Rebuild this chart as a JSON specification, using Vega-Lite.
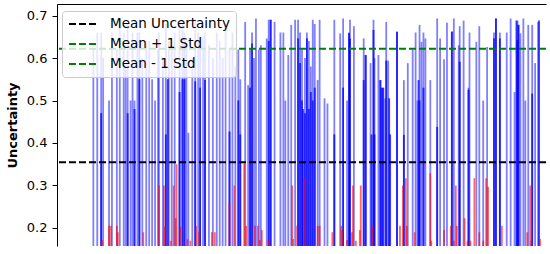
{
"$schema":"https://vega.github.io/schema/vega-lite/v6.json",
"width":489,"height":242,
"autosize":{"type":"none"},
"padding":{"left":57,"top":4,"right":4,"bottom":8},
"config":{"view":{"stroke":null},"font":"DejaVu Sans"},
"datasets":{
"bars":[
{"idx":32,"u":0.62,"label":"correct"},{"idx":36,"u":0.66,"label":"correct"},{"idx":40,"u":0.66,"label":"correct"},{"idx":42,"u":0.60,"label":"correct"},{"idx":48,"u":0.50,"label":"correct"},{"idx":51,"u":0.66,"label":"correct"},{"idx":56,"u":0.62,"label":"correct"},{"idx":59,"u":0.69,"label":"correct"},{"idx":63,"u":0.66,"label":"correct"},{"idx":65,"u":0.58,"label":"correct"},{"idx":67,"u":0.68,"label":"correct"},{"idx":70,"u":0.50,"label":"correct"},{"idx":72,"u":0.66,"label":"correct"},{"idx":74,"u":0.50,"label":"correct"},{"idx":77,"u":0.66,"label":"correct"},{"idx":79,"u":0.66,"label":"correct"},{"idx":82,"u":0.60,"label":"correct"},{"idx":86,"u":0.64,"label":"correct"},{"idx":89,"u":0.64,"label":"correct"},{"idx":92,"u":0.55,"label":"correct"},{"idx":95,"u":0.50,"label":"correct"},{"idx":98,"u":0.62,"label":"correct"},{"idx":99,"u":0.66,"label":"correct"},{"idx":103,"u":0.60,"label":"correct"},{"idx":106,"u":0.68,"label":"correct"},{"idx":109,"u":0.64,"label":"correct"},{"idx":112,"u":0.62,"label":"correct"},{"idx":115,"u":0.66,"label":"correct"},{"idx":120,"u":0.68,"label":"correct"},{"idx":123,"u":0.69,"label":"correct"},{"idx":125,"u":0.66,"label":"correct"},{"idx":127,"u":0.64,"label":"correct"},{"idx":129,"u":0.424,"label":"correct"},{"idx":133,"u":0.60,"label":"correct"},{"idx":136,"u":0.69,"label":"correct"},{"idx":139,"u":0.66,"label":"correct"},{"idx":141,"u":0.62,"label":"correct"},{"idx":144,"u":0.65,"label":"correct"},{"idx":146,"u":0.66,"label":"correct"},{"idx":150,"u":0.63,"label":"correct"},{"idx":154,"u":0.60,"label":"correct"},{"idx":158,"u":0.66,"label":"correct"},{"idx":161,"u":0.64,"label":"correct"},{"idx":164,"u":0.60,"label":"correct"},{"idx":167,"u":0.68,"label":"correct"},{"idx":171,"u":0.62,"label":"correct"},{"idx":174,"u":0.66,"label":"correct"},{"idx":177,"u":0.58,"label":"correct"},{"idx":180,"u":0.62,"label":"correct"},{"idx":182,"u":0.55,"label":"correct"},{"idx":187,"u":0.685,"label":"correct"},{"idx":190,"u":0.536,"label":"correct"},{"idx":192,"u":0.62,"label":"correct"},{"idx":194,"u":0.66,"label":"correct"},{"idx":196,"u":0.60,"label":"correct"},{"idx":198,"u":0.693,"label":"correct"},{"idx":201,"u":0.62,"label":"correct"},{"idx":203,"u":0.63,"label":"correct"},{"idx":209,"u":0.646,"label":"correct"},{"idx":211,"u":0.69,"label":"correct"},{"idx":213,"u":0.69,"label":"correct"},{"idx":217,"u":0.685,"label":"correct"},{"idx":223,"u":0.66,"label":"correct"},{"idx":226,"u":0.66,"label":"correct"},{"idx":228,"u":0.50,"label":"correct"},{"idx":231,"u":0.607,"label":"correct"},{"idx":234,"u":0.678,"label":"correct"},{"idx":238,"u":0.69,"label":"correct"},{"idx":241,"u":0.69,"label":"correct"},{"idx":243,"u":0.66,"label":"correct"},{"idx":245,"u":0.62,"label":"correct"},{"idx":248,"u":0.60,"label":"correct"},{"idx":250,"u":0.66,"label":"correct"},{"idx":252,"u":0.64,"label":"correct"},{"idx":254,"u":0.58,"label":"correct"},{"idx":256,"u":0.69,"label":"correct"},{"idx":258,"u":0.68,"label":"correct"},{"idx":261,"u":0.548,"label":"correct"},{"idx":263,"u":0.69,"label":"correct"},{"idx":268,"u":0.505,"label":"correct"},{"idx":271,"u":0.493,"label":"correct"},{"idx":278,"u":0.69,"label":"correct"},{"idx":284,"u":0.658,"label":"correct"},{"idx":287,"u":0.693,"label":"correct"},{"idx":291,"u":0.50,"label":"correct"},{"idx":293,"u":0.66,"label":"correct"},{"idx":294,"u":0.69,"label":"correct"},{"idx":298,"u":0.675,"label":"correct"},{"idx":308,"u":0.646,"label":"correct"},{"idx":310,"u":0.607,"label":"correct"},{"idx":315,"u":0.588,"label":"correct"},{"idx":318,"u":0.69,"label":"correct"},{"idx":319,"u":0.60,"label":"correct"},{"idx":323,"u":0.607,"label":"correct"},{"idx":325,"u":0.548,"label":"correct"},{"idx":326,"u":0.53,"label":"correct"},{"idx":330,"u":0.505,"label":"correct"},{"idx":331,"u":0.685,"label":"correct"},{"idx":333,"u":0.594,"label":"correct"},{"idx":342,"u":0.662,"label":"correct"},{"idx":349,"u":0.548,"label":"correct"},{"idx":353,"u":0.588,"label":"correct"},{"idx":358,"u":0.62,"label":"correct"},{"idx":361,"u":0.66,"label":"correct"},{"idx":363,"u":0.50,"label":"correct"},{"idx":365,"u":0.678,"label":"correct"},{"idx":367,"u":0.638,"label":"correct"},{"idx":369,"u":0.66,"label":"correct"},{"idx":371,"u":0.646,"label":"correct"},{"idx":376,"u":0.548,"label":"correct"},{"idx":383,"u":0.693,"label":"correct"},{"idx":386,"u":0.646,"label":"correct"},{"idx":390,"u":0.597,"label":"correct"},{"idx":393,"u":0.683,"label":"correct"},{"idx":398,"u":0.662,"label":"correct"},{"idx":400,"u":0.693,"label":"correct"},{"idx":405,"u":0.63,"label":"correct"},{"idx":406,"u":0.675,"label":"correct"},{"idx":410,"u":0.688,"label":"correct"},{"idx":415,"u":0.53,"label":"correct"},{"idx":416,"u":0.66,"label":"correct"},{"idx":423,"u":0.638,"label":"correct"},{"idx":426,"u":0.675,"label":"correct"},{"idx":430,"u":0.50,"label":"correct"},{"idx":434,"u":0.626,"label":"correct"},{"idx":441,"u":0.66,"label":"correct"},{"idx":443,"u":0.693,"label":"correct"},{"idx":447,"u":0.66,"label":"correct"},{"idx":454,"u":0.66,"label":"correct"},{"idx":458,"u":0.693,"label":"correct"},{"idx":462,"u":0.52,"label":"correct"},{"idx":465,"u":0.688,"label":"correct"},{"idx":466,"u":0.678,"label":"correct"},{"idx":468,"u":0.658,"label":"correct"},{"idx":471,"u":0.693,"label":"correct"},{"idx":473,"u":0.50,"label":"correct"},{"idx":476,"u":0.678,"label":"correct"},{"idx":480,"u":0.678,"label":"correct"},{"idx":483,"u":0.588,"label":"correct"},{"idx":486,"u":0.685,"label":"correct"},
{"idx":40,"u":0.47,"label":"correct"},{"idx":40,"u":0.47,"label":"correct"},{"idx":67,"u":0.47,"label":"correct"},{"idx":67,"u":0.47,"label":"correct"},{"idx":74,"u":0.48,"label":"correct"},{"idx":74,"u":0.48,"label":"correct"},{"idx":79,"u":0.55,"label":"correct"},{"idx":79,"u":0.55,"label":"correct"},{"idx":106,"u":0.42,"label":"correct"},{"idx":106,"u":0.42,"label":"correct"},{"idx":108,"u":0.55,"label":"correct"},{"idx":108,"u":0.55,"label":"correct"},{"idx":120,"u":0.52,"label":"correct"},{"idx":120,"u":0.52,"label":"correct"},{"idx":123,"u":0.55,"label":"correct"},{"idx":123,"u":0.55,"label":"correct"},{"idx":125,"u":0.55,"label":"correct"},{"idx":125,"u":0.55,"label":"correct"},{"idx":136,"u":0.545,"label":"correct"},{"idx":136,"u":0.545,"label":"correct"},{"idx":141,"u":0.53,"label":"correct"},{"idx":141,"u":0.53,"label":"correct"},{"idx":146,"u":0.548,"label":"correct"},{"idx":146,"u":0.548,"label":"correct"},{"idx":171,"u":0.427,"label":"correct"},{"idx":171,"u":0.427,"label":"correct"},{"idx":180,"u":0.50,"label":"correct"},{"idx":180,"u":0.50,"label":"correct"},{"idx":182,"u":0.42,"label":"correct"},{"idx":182,"u":0.42,"label":"correct"},{"idx":192,"u":0.53,"label":"correct"},{"idx":192,"u":0.53,"label":"correct"},{"idx":194,"u":0.634,"label":"correct"},{"idx":194,"u":0.634,"label":"correct"},{"idx":211,"u":0.64,"label":"correct"},{"idx":211,"u":0.64,"label":"correct"},{"idx":213,"u":0.69,"label":"correct"},{"idx":213,"u":0.69,"label":"correct"},{"idx":241,"u":0.646,"label":"correct"},{"idx":241,"u":0.646,"label":"correct"},{"idx":243,"u":0.588,"label":"correct"},{"idx":243,"u":0.588,"label":"correct"},{"idx":245,"u":0.50,"label":"correct"},{"idx":245,"u":0.50,"label":"correct"},{"idx":246,"u":0.48,"label":"correct"},{"idx":246,"u":0.48,"label":"correct"},{"idx":248,"u":0.47,"label":"correct"},{"idx":248,"u":0.47,"label":"correct"},{"idx":250,"u":0.646,"label":"correct"},{"idx":250,"u":0.646,"label":"correct"},{"idx":252,"u":0.48,"label":"correct"},{"idx":252,"u":0.48,"label":"correct"},{"idx":254,"u":0.52,"label":"correct"},{"idx":254,"u":0.52,"label":"correct"},{"idx":256,"u":0.50,"label":"correct"},{"idx":256,"u":0.50,"label":"correct"},{"idx":258,"u":0.53,"label":"correct"},{"idx":258,"u":0.53,"label":"correct"},{"idx":278,"u":0.42,"label":"correct"},{"idx":278,"u":0.42,"label":"correct"},{"idx":287,"u":0.53,"label":"correct"},{"idx":287,"u":0.53,"label":"correct"},{"idx":293,"u":0.658,"label":"correct"},{"idx":293,"u":0.658,"label":"correct"},{"idx":294,"u":0.646,"label":"correct"},{"idx":294,"u":0.646,"label":"correct"},{"idx":308,"u":0.548,"label":"correct"},{"idx":308,"u":0.548,"label":"correct"},{"idx":310,"u":0.607,"label":"correct"},{"idx":310,"u":0.607,"label":"correct"},{"idx":316,"u":0.42,"label":"correct"},{"idx":316,"u":0.42,"label":"correct"},{"idx":318,"u":0.666,"label":"correct"},{"idx":318,"u":0.666,"label":"correct"},{"idx":319,"u":0.42,"label":"correct"},{"idx":319,"u":0.42,"label":"correct"},{"idx":325,"u":0.548,"label":"correct"},{"idx":325,"u":0.548,"label":"correct"},{"idx":327,"u":0.53,"label":"correct"},{"idx":327,"u":0.53,"label":"correct"},{"idx":328,"u":0.53,"label":"correct"},{"idx":328,"u":0.53,"label":"correct"},{"idx":331,"u":0.594,"label":"correct"},{"idx":331,"u":0.594,"label":"correct"},{"idx":334,"u":0.505,"label":"correct"},{"idx":334,"u":0.505,"label":"correct"},{"idx":335,"u":0.42,"label":"correct"},{"idx":335,"u":0.42,"label":"correct"},{"idx":342,"u":0.662,"label":"correct"},{"idx":342,"u":0.662,"label":"correct"},{"idx":349,"u":0.419,"label":"correct"},{"idx":349,"u":0.419,"label":"correct"},{"idx":364,"u":0.548,"label":"correct"},{"idx":364,"u":0.548,"label":"correct"},{"idx":365,"u":0.50,"label":"correct"},{"idx":365,"u":0.50,"label":"correct"},{"idx":369,"u":0.53,"label":"correct"},{"idx":369,"u":0.53,"label":"correct"},{"idx":383,"u":0.438,"label":"correct"},{"idx":383,"u":0.438,"label":"correct"},{"idx":398,"u":0.662,"label":"correct"},{"idx":398,"u":0.662,"label":"correct"},{"idx":406,"u":0.591,"label":"correct"},{"idx":406,"u":0.591,"label":"correct"},{"idx":415,"u":0.525,"label":"correct"},{"idx":415,"u":0.525,"label":"correct"},{"idx":441,"u":0.646,"label":"correct"},{"idx":441,"u":0.646,"label":"correct"},{"idx":443,"u":0.693,"label":"correct"},{"idx":443,"u":0.693,"label":"correct"},{"idx":447,"u":0.646,"label":"correct"},{"idx":447,"u":0.646,"label":"correct"},{"idx":464,"u":0.688,"label":"correct"},{"idx":464,"u":0.688,"label":"correct"},{"idx":465,"u":0.642,"label":"correct"},{"idx":465,"u":0.642,"label":"correct"},{"idx":466,"u":0.678,"label":"correct"},{"idx":466,"u":0.678,"label":"correct"},{"idx":480,"u":0.516,"label":"correct"},{"idx":480,"u":0.516,"label":"correct"},{"idx":487,"u":0.688,"label":"correct"},{"idx":487,"u":0.688,"label":"correct"},
{"idx":41,"u":0.172,"label":"incorrect"},{"idx":48,"u":0.205,"label":"incorrect"},{"idx":50,"u":0.205,"label":"incorrect"},{"idx":56,"u":0.205,"label":"incorrect"},{"idx":57,"u":0.19,"label":"incorrect"},{"idx":83,"u":0.19,"label":"incorrect"},{"idx":99,"u":0.30,"label":"incorrect"},{"idx":104,"u":0.30,"label":"incorrect"},{"idx":105,"u":0.203,"label":"incorrect"},{"idx":111,"u":0.17,"label":"incorrect"},{"idx":114,"u":0.30,"label":"incorrect"},{"idx":116,"u":0.223,"label":"incorrect"},{"idx":117,"u":0.35,"label":"incorrect"},{"idx":121,"u":0.203,"label":"incorrect"},{"idx":128,"u":0.174,"label":"incorrect"},{"idx":131,"u":0.17,"label":"incorrect"},{"idx":137,"u":0.205,"label":"incorrect"},{"idx":140,"u":0.19,"label":"incorrect"},{"idx":153,"u":0.19,"label":"incorrect"},{"idx":156,"u":0.19,"label":"incorrect"},{"idx":171,"u":0.258,"label":"incorrect"},{"idx":176,"u":0.30,"label":"incorrect"},{"idx":186,"u":0.352,"label":"incorrect"},{"idx":188,"u":0.205,"label":"incorrect"},{"idx":197,"u":0.205,"label":"incorrect"},{"idx":200,"u":0.205,"label":"incorrect"},{"idx":202,"u":0.172,"label":"incorrect"},{"idx":204,"u":0.195,"label":"incorrect"},{"idx":211,"u":0.174,"label":"incorrect"},{"idx":235,"u":0.30,"label":"incorrect"},{"idx":236,"u":0.174,"label":"incorrect"},{"idx":240,"u":0.205,"label":"incorrect"},{"idx":247,"u":0.317,"label":"incorrect"},{"idx":261,"u":0.205,"label":"incorrect"},{"idx":263,"u":0.205,"label":"incorrect"},{"idx":276,"u":0.19,"label":"incorrect"},{"idx":285,"u":0.205,"label":"incorrect"},{"idx":286,"u":0.195,"label":"incorrect"},{"idx":291,"u":0.172,"label":"incorrect"},{"idx":296,"u":0.19,"label":"incorrect"},{"idx":297,"u":0.30,"label":"incorrect"},{"idx":300,"u":0.17,"label":"incorrect"},{"idx":304,"u":0.195,"label":"incorrect"},{"idx":305,"u":0.30,"label":"incorrect"},{"idx":317,"u":0.205,"label":"incorrect"},{"idx":345,"u":0.205,"label":"incorrect"},{"idx":348,"u":0.30,"label":"incorrect"},{"idx":351,"u":0.317,"label":"incorrect"},{"idx":352,"u":0.205,"label":"incorrect"},{"idx":360,"u":0.19,"label":"incorrect"},{"idx":376,"u":0.329,"label":"incorrect"},{"idx":377,"u":0.17,"label":"incorrect"},{"idx":390,"u":0.195,"label":"incorrect"},{"idx":397,"u":0.205,"label":"incorrect"},{"idx":400,"u":0.17,"label":"incorrect"},{"idx":402,"u":0.30,"label":"incorrect"},{"idx":403,"u":0.205,"label":"incorrect"},{"idx":411,"u":0.223,"label":"incorrect"},{"idx":414,"u":0.17,"label":"incorrect"},{"idx":417,"u":0.17,"label":"incorrect"},{"idx":421,"u":0.317,"label":"incorrect"},{"idx":426,"u":0.19,"label":"incorrect"},{"idx":430,"u":0.17,"label":"incorrect"},{"idx":433,"u":0.317,"label":"incorrect"},{"idx":435,"u":0.297,"label":"incorrect"},{"idx":449,"u":0.205,"label":"incorrect"},{"idx":475,"u":0.19,"label":"incorrect"},{"idx":478,"u":0.30,"label":"incorrect"},{"idx":479,"u":0.17,"label":"incorrect"},{"idx":488,"u":0.174,"label":"incorrect"}
],
"lines":[
{"line":"Mean Uncertainty","u":0.3546},
{"line":"Mean + 1 Std","u":0.622},
{"line":"Mean - 1 Std","u":0.087}
]
},
"layer":[
{"data":{"name":"bars"},
 "transform":[{"filter":"datum.label === 'correct'"}],
 "mark":{"type":"bar","orient":"vertical","size":1.8,"color":"blue","opacity":0.5,"clip":true},
 "encoding":{
  "x":{"field":"idx","type":"quantitative","scale":{"domain":[0,489],"nice":false,"zero":false},
       "axis":{"orient":"top","title":null,"labels":false,"ticks":false,"grid":false,"domainColor":"black","domainWidth":1}},
  "y":{"field":"u","type":"quantitative","stack":null,
       "scale":{"domain":[0.1576,0.7271],"nice":false,"zero":false},
       "axis":{"title":"Uncertainty","titleFontWeight":"bold","titleFontSize":13,"titleColor":"black","titlePadding":7,
               "values":[0.2,0.3,0.4,0.5,0.6,0.7],"format":".1f","labelFontSize":13,"labelColor":"black","labelPadding":5,
               "tickSize":5,"tickColor":"black","domainColor":"black","grid":false}}
 }},
{"data":{"name":"bars"},
 "transform":[{"filter":"datum.label === 'incorrect'"}],
 "mark":{"type":"bar","orient":"vertical","size":1.8,"color":"red","opacity":0.6,"clip":true},
 "encoding":{
  "x":{"field":"idx","type":"quantitative"},
  "y":{"field":"u","type":"quantitative","stack":null}
 }},
{"data":{"name":"lines"},
 "mark":{"type":"rule","strokeDash":[7,3],"strokeWidth":2,"clip":true},
 "encoding":{
  "y":{"field":"u","type":"quantitative"},
  "color":{"field":"line","type":"nominal",
    "scale":{"domain":["Mean Uncertainty","Mean + 1 Std","Mean - 1 Std"],"range":["black","green","green"]},
    "legend":{"title":null,"orient":"none","legendX":5,"legendY":7,"symbolType":"M-1,0H3.83","symbolStrokeWidth":2,
              "symbolDash":[7,3],"symbolSize":144,"labelFontSize":13.5,"labelColor":"black","labelOffset":28,
              "fillColor":"rgba(255,255,255,0.8)","strokeColor":"#cccccc","cornerRadius":3,"padding":6,"rowPadding":6}}
 }}
]
}
